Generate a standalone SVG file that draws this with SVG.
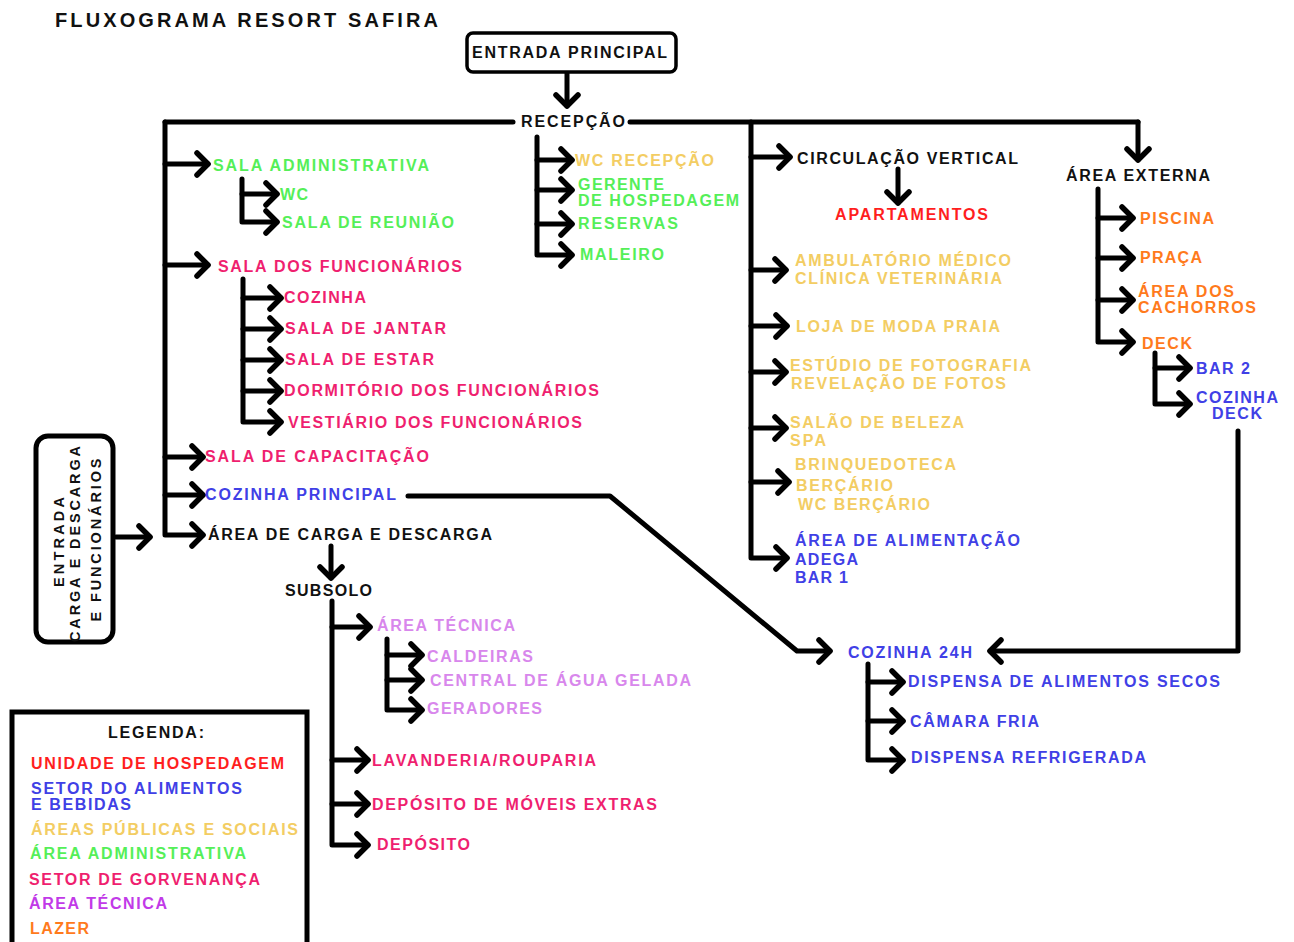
<svg xmlns="http://www.w3.org/2000/svg" width="1294" height="942" viewBox="0 0 1294 942">
<defs>
<style>
text{font-family:"Liberation Sans",Arial,sans-serif;font-weight:bold;font-size:16px}
.k{fill:#111}
.g{fill:#55ef58}
.p{fill:#ef1f6f}
.r{fill:#ff1e1e}
.b{fill:#4040e6}
.y{fill:#f3cd63}
.o{fill:#ff7a1c}
.lp{fill:#d887ec}
.pu{fill:#c13ae8}
.box{fill:#fff;stroke:#000}
.vt{font-size:14.5px}
.c path{fill:none;stroke:#000;stroke-width:5;stroke-linecap:round;stroke-linejoin:round;marker-end:url(#ah)}
.c path.n{marker-end:none}
</style>
<marker id="ah" markerUnits="userSpaceOnUse" viewBox="-16 -16 32 32" markerWidth="32" markerHeight="32" refX="0" refY="0" orient="auto">
<path d="M-11,-11 L0,0 L-11,11" fill="none" stroke="#000" stroke-width="5.5" stroke-linecap="round" stroke-linejoin="round"/>
</marker>
</defs>
<rect width="1294" height="942" fill="#fff"/>

<g id="title"><text class="k" x="55" y="27" textLength="383" lengthAdjust="spacing" style="font-size:20px">FLUXOGRAMA RESORT SAFIRA</text></g>

<g class="c" id="connectors">
<path d="M567,72 V106"/>
<path class="n" d="M513,122 H165"/>
<path d="M165,122 V535 H203"/>
<path d="M165,164 H208"/>
<path d="M165,265 H208"/>
<path d="M165,457 H203"/>
<path d="M165,495 H203"/>
<path class="n" d="M630,122 H1138"/>
<path d="M1138,122 V160"/>
<path d="M751,122 V558 H787"/>
<path d="M751,157 H790"/>
<path d="M751,270 H786"/>
<path d="M751,326 H787"/>
<path d="M751,372 H786"/>
<path d="M751,428 H786"/>
<path d="M751,482 H789"/>
<path d="M537,137 V255 H572"/>
<path d="M537,160 H572"/>
<path d="M537,190 H572"/>
<path d="M537,224 H572"/>
<path d="M242,179 V222 H277"/>
<path d="M242,194 H277"/>
<path d="M243,279 V422 H281"/>
<path d="M243,298 H281"/>
<path d="M243,329 H281"/>
<path d="M243,360 H281"/>
<path d="M243,391 H281"/>
<path d="M116,537 H150"/>
<path d="M331,546 V578"/>
<path d="M332,601 V845 H368"/>
<path d="M332,627 H370"/>
<path d="M332,760 H368"/>
<path d="M332,804 H368"/>
<path d="M387,639 V710 H422"/>
<path d="M387,655 H422"/>
<path d="M387,680 H422"/>
<path d="M898,169 V203"/>
<path d="M1098,189 V342 H1133"/>
<path d="M1098,218 H1133"/>
<path d="M1098,258 H1133"/>
<path d="M1098,300 H1133"/>
<path d="M1155,353 V404 H1190"/>
<path d="M1155,368 H1190"/>
<path d="M1238,431 V651 H990"/>
<path d="M408,496 H610 L797,651 H830"/>
<path d="M868,664 V760 H903"/>
<path d="M868,682 H903"/>
<path d="M868,721 H903"/>
</g>

<g id="entrada-principal"><rect class="box" x="467" y="33" width="209" height="39" rx="6" stroke-width="3.5"/><text class="k" x="472" y="58" textLength="195" lengthAdjust="spacing">ENTRADA PRINCIPAL</text></g>
<g id="recepcao"><text class="k" x="521" y="127" textLength="104" lengthAdjust="spacing">RECEPÇÃO</text></g>
<g id="wc-recepcao"><text class="y" x="575" y="166" textLength="139" lengthAdjust="spacing">WC RECEPÇÃO</text></g>
<g id="gerente"><text class="g" x="578" y="190" textLength="86" lengthAdjust="spacing">GERENTE</text><text class="g" x="578" y="206" textLength="161" lengthAdjust="spacing">DE HOSPEDAGEM</text></g>
<g id="reservas"><text class="g" x="578" y="229" textLength="100" lengthAdjust="spacing">RESERVAS</text></g>
<g id="maleiro"><text class="g" x="580" y="260" textLength="84" lengthAdjust="spacing">MALEIRO</text></g>

<g id="sala-admin"><text class="g" x="213" y="171" textLength="216" lengthAdjust="spacing">SALA ADMINISTRATIVA</text></g>
<g id="wc"><text class="g" x="280" y="200" textLength="28" lengthAdjust="spacing">WC</text></g>
<g id="sala-reuniao"><text class="g" x="282" y="228" textLength="172" lengthAdjust="spacing">SALA DE REUNIÃO</text></g>
<g id="sala-func"><text class="p" x="218" y="272" textLength="244" lengthAdjust="spacing">SALA DOS FUNCIONÁRIOS</text></g>
<g id="cozinha"><text class="p" x="284" y="303" textLength="82" lengthAdjust="spacing">COZINHA</text></g>
<g id="sala-jantar"><text class="p" x="285" y="334" textLength="161" lengthAdjust="spacing">SALA DE JANTAR</text></g>
<g id="sala-estar"><text class="p" x="285" y="365" textLength="149" lengthAdjust="spacing">SALA DE ESTAR</text></g>
<g id="dormitorio"><text class="p" x="284" y="396" textLength="315" lengthAdjust="spacing">DORMITÓRIO DOS FUNCIONÁRIOS</text></g>
<g id="vestiario"><text class="p" x="288" y="428" textLength="294" lengthAdjust="spacing">VESTIÁRIO DOS FUNCIONÁRIOS</text></g>
<g id="sala-capacitacao"><text class="p" x="205" y="462" textLength="224" lengthAdjust="spacing">SALA DE CAPACITAÇÃO</text></g>
<g id="cozinha-principal"><text class="b" x="205" y="500" textLength="191" lengthAdjust="spacing">COZINHA PRINCIPAL</text></g>
<g id="area-carga"><text class="k" x="208" y="540" textLength="284" lengthAdjust="spacing">ÁREA DE CARGA E DESCARGA</text></g>

<g id="entrada-carga"><rect class="box" x="36" y="436" width="77" height="206" rx="12" stroke-width="5"/>
<text class="k vt" transform="translate(64,542) rotate(-90)" text-anchor="middle" textLength="90" lengthAdjust="spacing">ENTRADA</text>
<text class="k vt" transform="translate(80,544) rotate(-90)" text-anchor="middle" textLength="196" lengthAdjust="spacing">CARGA E DESCARGA</text>
<text class="k vt" transform="translate(101,540) rotate(-90)" text-anchor="middle" textLength="163" lengthAdjust="spacing">E FUNCIONÁRIOS</text></g>

<g id="subsolo"><text class="k" x="285" y="596" textLength="87" lengthAdjust="spacing">SUBSOLO</text></g>
<g id="area-tecnica"><text class="lp" x="377" y="631" textLength="138" lengthAdjust="spacing">ÁREA TÉCNICA</text></g>
<g id="caldeiras"><text class="lp" x="427" y="662" textLength="106" lengthAdjust="spacing">CALDEIRAS</text></g>
<g id="central-agua"><text class="lp" x="430" y="686" textLength="261" lengthAdjust="spacing">CENTRAL DE ÁGUA GELADA</text></g>
<g id="geradores"><text class="lp" x="427" y="714" textLength="115" lengthAdjust="spacing">GERADORES</text></g>
<g id="lavanderia"><text class="p" x="372" y="766" textLength="224" lengthAdjust="spacing">LAVANDERIA/ROUPARIA</text></g>
<g id="deposito-moveis"><text class="p" x="372" y="810" textLength="285" lengthAdjust="spacing">DEPÓSITO DE MÓVEIS EXTRAS</text></g>
<g id="deposito"><text class="p" x="377" y="850" textLength="93" lengthAdjust="spacing">DEPÓSITO</text></g>

<g id="circulacao"><text class="k" x="797" y="164" textLength="221" lengthAdjust="spacing">CIRCULAÇÃO VERTICAL</text></g>
<g id="apartamentos"><text class="r" x="835" y="220" textLength="153" lengthAdjust="spacing">APARTAMENTOS</text></g>
<g id="ambulatorio"><text class="y" x="795" y="266" textLength="216" lengthAdjust="spacing">AMBULATÓRIO MÉDICO</text><text class="y" x="795" y="284" textLength="207" lengthAdjust="spacing">CLÍNICA VETERINÁRIA</text></g>
<g id="loja"><text class="y" x="796" y="332" textLength="204" lengthAdjust="spacing">LOJA DE MODA PRAIA</text></g>
<g id="estudio"><text class="y" x="790" y="371" textLength="241" lengthAdjust="spacing">ESTÚDIO DE FOTOGRAFIA</text><text class="y" x="791" y="389" textLength="215" lengthAdjust="spacing">REVELAÇÃO DE FOTOS</text></g>
<g id="salao"><text class="y" x="790" y="428" textLength="174" lengthAdjust="spacing">SALÃO DE BELEZA</text><text class="y" x="790" y="446" textLength="36" lengthAdjust="spacing">SPA</text></g>
<g id="brinquedoteca"><text class="y" x="795" y="470" textLength="161" lengthAdjust="spacing">BRINQUEDOTECA</text><text class="y" x="796" y="491" textLength="97" lengthAdjust="spacing">BERÇÁRIO</text><text class="y" x="798" y="510" textLength="132" lengthAdjust="spacing">WC BERÇÁRIO</text></g>
<g id="alimentacao"><text class="b" x="795" y="546" textLength="225" lengthAdjust="spacing">ÁREA DE ALIMENTAÇÃO</text><text class="b" x="795" y="565" textLength="63" lengthAdjust="spacing">ADEGA</text><text class="b" x="795" y="583" textLength="53" lengthAdjust="spacing">BAR 1</text></g>

<g id="area-externa"><text class="k" x="1066" y="181" textLength="144" lengthAdjust="spacing">ÁREA EXTERNA</text></g>
<g id="piscina"><text class="o" x="1140" y="224" textLength="74" lengthAdjust="spacing">PISCINA</text></g>
<g id="praca"><text class="o" x="1140" y="263" textLength="62" lengthAdjust="spacing">PRAÇA</text></g>
<g id="cachorros"><text class="o" x="1138" y="297" textLength="96" lengthAdjust="spacing">ÁREA DOS</text><text class="o" x="1138" y="313" textLength="118" lengthAdjust="spacing">CACHORROS</text></g>
<g id="deck"><text class="o" x="1142" y="349" textLength="50" lengthAdjust="spacing">DECK</text></g>
<g id="bar2"><text class="b" x="1196" y="374" textLength="54" lengthAdjust="spacing">BAR 2</text></g>
<g id="cozinha-deck"><text class="b" x="1196" y="403" textLength="82" lengthAdjust="spacing">COZINHA</text><text class="b" x="1212" y="419" textLength="50" lengthAdjust="spacing">DECK</text></g>

<g id="cozinha-24h"><text class="b" x="848" y="658" textLength="124" lengthAdjust="spacing">COZINHA 24H</text></g>
<g id="dispensa-secos"><text class="b" x="908" y="687" textLength="312" lengthAdjust="spacing">DISPENSA DE ALIMENTOS SECOS</text></g>
<g id="camara-fria"><text class="b" x="910" y="727" textLength="129" lengthAdjust="spacing">CÂMARA FRIA</text></g>
<g id="dispensa-refrigerada"><text class="b" x="911" y="763" textLength="235" lengthAdjust="spacing">DISPENSA REFRIGERADA</text></g>

<g id="legenda"><rect class="box" x="12" y="712" width="295" height="240" stroke-width="5"/>
<text class="k" x="108" y="738" textLength="96" lengthAdjust="spacing">LEGENDA:</text>
<text class="r" x="31" y="769" textLength="253" lengthAdjust="spacing">UNIDADE DE HOSPEDAGEM</text>
<text class="b" x="31" y="794" textLength="211" lengthAdjust="spacing">SETOR DO ALIMENTOS</text>
<text class="b" x="31" y="810" textLength="100" lengthAdjust="spacing">E BEBIDAS</text>
<text class="y" x="31" y="835" textLength="267" lengthAdjust="spacing">ÁREAS PÚBLICAS E SOCIAIS</text>
<text class="g" x="30" y="859" textLength="216" lengthAdjust="spacing">ÁREA ADMINISTRATIVA</text>
<text class="p" x="29" y="885" textLength="231" lengthAdjust="spacing">SETOR DE GORVENANÇA</text>
<text class="pu" x="29" y="909" textLength="138" lengthAdjust="spacing">ÁREA TÉCNICA</text>
<text class="o" x="30" y="934" textLength="59" lengthAdjust="spacing">LAZER</text>
</g>
</svg>
